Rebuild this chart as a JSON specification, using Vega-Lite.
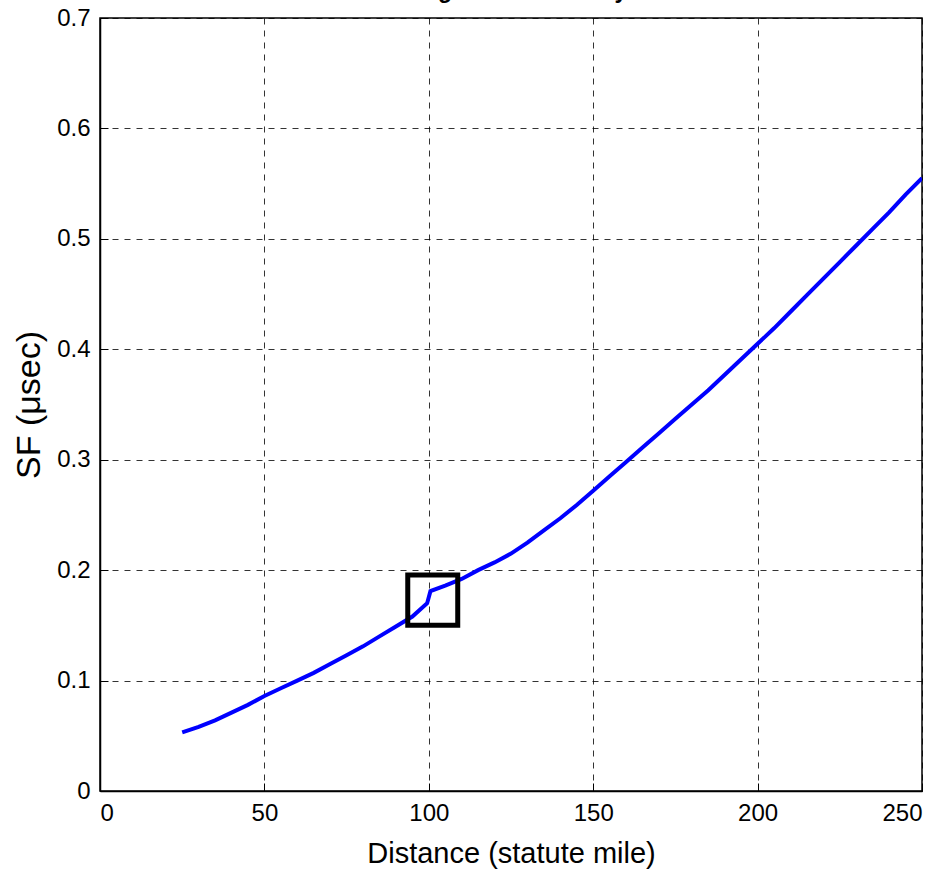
{
  "$schema": "https://vega.github.io/schema/vega-lite/v6.json",
  "autosize": {"type": "none"},
  "width": 822,
  "height": 773,
  "padding": {"top": 18, "left": 100, "right": 25, "bottom": 88},
  "background": "white",
  "title": {"text": "Range vs. Secondary", "orient": "top", "anchor": "middle", "baseline": "alphabetic", "offset": 0, "dy": 15, "font": "Liberation Sans", "fontSize": 23, "fontWeight": "bold", "color": "black"},
  "config": {
    "view": {"stroke": "black", "strokeWidth": 1.5},
    "axis": {
      "labelFont": "Liberation Sans", "labelFontSize": 24, "labelColor": "black",
      "titleFont": "Liberation Sans", "titleFontSize": 29, "titleFontWeight": "normal", "titleColor": "black",
      "domainColor": "black", "domainWidth": 1.5, "tickColor": "black", "tickSize": -8,
      "grid": true, "gridColor": "black", "gridDash": [6, 6], "gridOpacity": 0.8, "gridWidth": 1
    }
  },
  "layer": [
    {
      "data": {"values": [
        {"d": 25, "sf": 0.053}, {"d": 30, "sf": 0.058}, {"d": 35, "sf": 0.064}, {"d": 40, "sf": 0.071},
        {"d": 45, "sf": 0.078}, {"d": 50, "sf": 0.086}, {"d": 55, "sf": 0.093}, {"d": 60, "sf": 0.100},
        {"d": 65, "sf": 0.107}, {"d": 70, "sf": 0.115}, {"d": 75, "sf": 0.123}, {"d": 80, "sf": 0.131},
        {"d": 85, "sf": 0.140}, {"d": 90, "sf": 0.149}, {"d": 95, "sf": 0.158}, {"d": 99.5, "sf": 0.170},
        {"d": 100.5, "sf": 0.181}, {"d": 105, "sf": 0.186}, {"d": 110, "sf": 0.192}, {"d": 115, "sf": 0.200},
        {"d": 120, "sf": 0.207}, {"d": 125, "sf": 0.215}, {"d": 130, "sf": 0.225}, {"d": 135, "sf": 0.236},
        {"d": 140, "sf": 0.247}, {"d": 145, "sf": 0.259}, {"d": 150, "sf": 0.272}, {"d": 155, "sf": 0.285},
        {"d": 160, "sf": 0.298}, {"d": 165, "sf": 0.311}, {"d": 170, "sf": 0.324}, {"d": 175, "sf": 0.337},
        {"d": 180, "sf": 0.350}, {"d": 185, "sf": 0.363}, {"d": 190, "sf": 0.377}, {"d": 195, "sf": 0.391},
        {"d": 200, "sf": 0.405}, {"d": 205, "sf": 0.419}, {"d": 210, "sf": 0.434}, {"d": 215, "sf": 0.449},
        {"d": 220, "sf": 0.464}, {"d": 225, "sf": 0.479}, {"d": 230, "sf": 0.494}, {"d": 235, "sf": 0.509},
        {"d": 240, "sf": 0.524}, {"d": 245, "sf": 0.540}, {"d": 250, "sf": 0.555}
      ]},
      "mark": {"type": "line", "color": "#0000ff", "strokeWidth": 4, "clip": true},
      "encoding": {
        "x": {"field": "d", "type": "quantitative", "scale": {"domain": [0, 250], "nice": false},
              "axis": {"title": "Distance (statute mile)", "values": [0, 50, 100, 150, 200, 250], "titlePadding": 14, "labelPadding": 18}},
        "y": {"field": "sf", "type": "quantitative", "scale": {"domain": [0, 0.7], "nice": false},
              "axis": {"title": "SF (μsec)", "titleFontSize": 34, "values": [0, 0.1, 0.2, 0.3, 0.4, 0.5, 0.6, 0.7], "format": "~g", "titlePadding": 10, "labelPadding": 18}}
      }
    },
    {
      "data": {"values": [{"x1": 93.6, "x2": 108.8, "y1": 0.150, "y2": 0.1957}]},
      "mark": {"type": "rect", "fill": null, "fillOpacity": 0, "stroke": "black", "strokeWidth": 5},
      "encoding": {
        "x": {"field": "x1", "type": "quantitative"},
        "x2": {"field": "x2"},
        "y": {"field": "y1", "type": "quantitative"},
        "y2": {"field": "y2"}
      }
    }
  ]
}
